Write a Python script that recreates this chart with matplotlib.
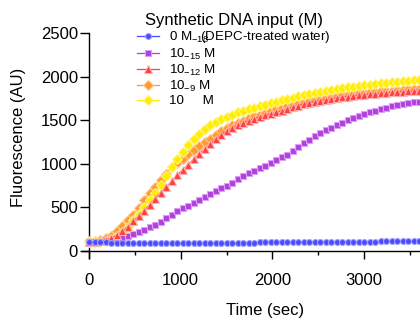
import numpy as np
import matplotlib
matplotlib.use("Agg")
import matplotlib.pyplot as plt
from matplotlib.ticker import MultipleLocator

plt.rcParams['font.family'] = ['Liberation Sans', 'DejaVu Sans']
plt.rcParams['mathtext.fontset'] = 'custom'
plt.rcParams['mathtext.rm'] = 'Liberation Sans'
plt.rcParams['mathtext.default'] = 'regular'

# time points (sec), one reading every 60 s
time_sec = list(range(0, 3601, 60))

water = [100, 100, 99, 98, 97, 96, 95, 95, 95, 94, 94, 94, 94, 94, 94, 94,
         94, 94, 94, 94, 94, 94, 95, 95, 95, 95, 96, 96, 96, 97, 97, 98,
         98, 99, 99, 100, 100, 101, 101, 102, 102, 103, 103, 104, 104, 105,
         105, 106, 106, 107, 107, 108, 108, 109, 109, 110, 110, 111, 111, 112, 112]

dna_1e18 = [100, 100, 105, 110, 120, 135, 150, 170, 195, 220, 245, 270, 300,
            335, 375, 415, 455, 490, 520, 555, 590, 620, 655, 690, 720, 750,
            785, 820, 855, 890, 920, 950, 980, 1010, 1045, 1075, 1105, 1150,
            1195, 1235, 1275, 1315, 1350, 1385, 1415, 1445, 1472, 1498, 1522,
            1545, 1568, 1590, 1610, 1628, 1645, 1660, 1675, 1688, 1698, 1706, 1712]

dna_1e15 = [100, 100, 110, 125, 150, 180, 225, 280, 340, 400, 460, 530, 600,
            670, 730, 800, 870, 930, 990, 1055, 1115, 1172, 1228, 1280, 1330,
            1375, 1412, 1442, 1470, 1496, 1518, 1538, 1556, 1573, 1590, 1608,
            1628, 1648, 1668, 1688, 1702, 1714, 1725, 1735, 1745, 1755, 1763,
            1771, 1779, 1786, 1793, 1800, 1805, 1810, 1815, 1819, 1823, 1827,
            1831, 1835, 1839]

dna_1e12 = [110, 115, 125, 145, 175, 225, 290, 360, 410, 495, 590, 665, 735,
            810, 885, 960, 1010, 1060, 1110, 1160, 1200, 1245, 1290, 1330,
            1375, 1410, 1445, 1470, 1495, 1520, 1545, 1565, 1585, 1605, 1625,
            1645, 1663, 1680, 1696, 1710, 1723, 1735, 1746, 1756, 1766, 1776,
            1785, 1793, 1800, 1807, 1813, 1819, 1825, 1830, 1835, 1840, 1845,
            1849, 1854, 1858, 1862]

dna_1e9 = [100, 100, 108, 120, 140, 170, 215, 280, 350, 425, 500, 580, 670,
           760, 860, 960, 1050, 1130, 1210, 1280, 1340, 1395, 1440, 1478, 1510,
           1540, 1565, 1590, 1610, 1628, 1645, 1660, 1678, 1695, 1712, 1728,
           1745, 1760, 1775, 1790, 1803, 1815, 1827, 1838, 1848, 1858, 1867,
           1876, 1885, 1893, 1900, 1908, 1915, 1922, 1929, 1935, 1942, 1948,
           1954, 1960, 1966]

labels = ["0 M$_{-18}\\!\\!\\!\\!\\!$ (DEPC-treated water)",
          "10$_{-15}$ M", "10$_{-12}$ M", "10$_{-9}$ M", "10     M"]

fig = plt.figure(figsize=(4.2, 3.22), dpi=100)
ax = fig.add_axes([0.1945, 0.1975, 0.8055, 0.70])

series = [
    (water, '#4a4aff', '#a0a0ff', 'o', 4.3, 5),
    (dna_1e18, '#b040e0', '#dca0f0', 's', 4.6, 4),
    (dna_1e15, '#ff4040', '#ffb0b0', '^', 5.6, 4),
    (dna_1e12, '#ff9a30', '#ffc890', 'D', 5.0, 3),
    (dna_1e9, '#ffee00', '#fff480', 'D', 4.8, 3.5),
]
for (vals, c, ec, m, ms, z), lab in zip(series, labels):
    ax.plot(time_sec, vals, color=c, marker=m, markersize=ms, lw=0.9,
            markerfacecolor=c, markeredgecolor=ec, markeredgewidth=0.8,
            label=lab, zorder=z)

ax.set_xlim(-80, 3610)
ax.set_ylim(-85, 2500)
ax.spines['left'].set_position(('data', 0))
ax.spines['bottom'].set_position(('data', 0))
ax.spines['top'].set_visible(False)
ax.spines['right'].set_visible(False)
for s in ('left', 'bottom'):
    ax.spines[s].set_linewidth(1.0)

ax.xaxis.set_major_locator(MultipleLocator(1000))
ax.xaxis.set_minor_locator(MultipleLocator(500))
ax.yaxis.set_major_locator(MultipleLocator(500))
ax.tick_params(axis='x', which='major', length=5.5, width=1, labelsize=12, pad=10)
ax.tick_params(axis='x', which='minor', length=3, width=1)
ax.tick_params(axis='y', which='major', length=6.5, width=1, labelsize=12, pad=1.5)

ax.set_xlabel("Time (sec)", fontsize=12)
ax.set_ylabel("Fluorescence (AU)", fontsize=12)
ax.xaxis.set_label_coords(0.542, -0.198)
ax.yaxis.set_label_coords(-0.165, 0.539)

leg = ax.legend(loc='upper left', bbox_to_anchor=(128 / 420, 1 - 4 / 322),
                bbox_transform=fig.transFigure, frameon=False, fontsize=9.6,
                title="Synthetic DNA input (M)", title_fontsize=12,
                handlelength=1.6, handletextpad=0.8, labelspacing=0.08,
                borderpad=0.2)
leg.set_zorder(10)

fig.savefig("out.png", dpi=100)
